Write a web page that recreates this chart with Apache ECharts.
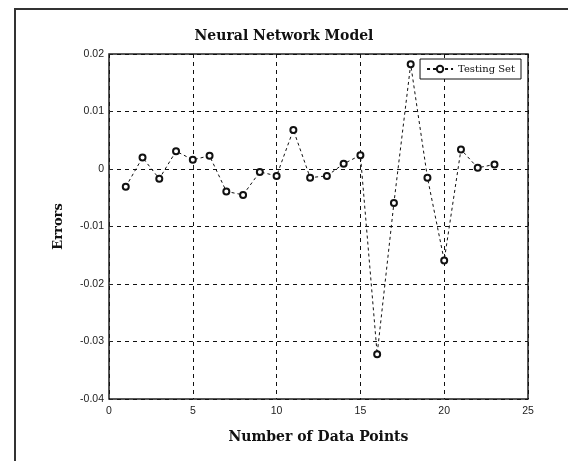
<!DOCTYPE html>
<html><head><meta charset="utf-8">
<script src="https://cdn.jsdelivr.net/npm/echarts@6/dist/echarts.min.js"></script>
<style>html,body{margin:0;padding:0;background:#fff}#c{width:568px;height:461px}</style>
</head><body><div id="c"></div>
<script>
const dataPointNumbers = [1,2,3,4,5,6,7,8,9,10,11,12,13,14,15,16,17,18,19,20,21,22,23];
const testingErrors = [-0.0031,0.0020,-0.0017,0.0031,0.0016,0.0023,-0.0039,-0.0045,-0.0005,-0.0012,0.0068,-0.0015,-0.0012,0.0009,0.0024,-0.0322,-0.0059,0.0182,-0.0015,-0.0159,0.0034,0.0002,0.0008];
const seriesName = 'Testing Set';
const titleText = 'Neural Network Model';
const xTitle = 'Number of Data Points';
const yTitle = 'Errors';

const chart = echarts.init(document.getElementById('c'), null, {renderer:'canvas'});
const serif = '"DejaVu Serif", "Liberation Serif", serif';
const sans = '"Liberation Sans", Arial, sans-serif';
chart.setOption({
  animation:false,
  backgroundColor:'#fff',
  graphic:[{type:'rect',shape:{x:15,y:9,width:700,height:600},style:{fill:'none',stroke:'#333',lineWidth:2},z:-1}],
  title:{text:titleText,left:'center',top:24,textStyle:{fontFamily:serif,fontWeight:'bold',fontSize:14,color:'#111'}},
  legend:{data:[seriesName],right:47,top:59,orient:'vertical',
    backgroundColor:'#fff',borderColor:'#111',borderWidth:1,borderRadius:0,padding:[5,6,5,6],
    itemWidth:26,itemHeight:8,itemGap:4,
    textStyle:{fontFamily:serif,fontSize:10,color:'#111'}},
  grid:{left:109,right:40,top:54,bottom:62,show:true,borderColor:'#222',borderWidth:1.5,backgroundColor:'transparent'},
  xAxis:{type:'value',min:0,max:25,interval:5,name:xTitle,nameLocation:'middle',nameGap:31,
    nameTextStyle:{fontFamily:serif,fontWeight:'bold',fontSize:14,color:'#111'},
    axisLine:{show:false},axisTick:{show:true,inside:true,length:4,lineStyle:{color:'#222'}},
    axisLabel:{fontFamily:sans,fontSize:10.5,color:'#222',margin:7},
    splitLine:{show:true,lineStyle:{color:'#111',type:[4,4],width:1}}},
  yAxis:{type:'value',min:-0.04,max:0.02,interval:0.01,name:yTitle,nameLocation:'middle',nameGap:44,
    nameTextStyle:{fontFamily:serif,fontWeight:'bold',fontSize:13,color:'#111'},
    axisLine:{show:false},axisTick:{show:true,inside:true,length:4,lineStyle:{color:'#222'}},
    axisLabel:{fontFamily:sans,fontSize:10.5,color:'#222',margin:5,formatter:v=>String(Math.round(v*100)/100)},
    splitLine:{show:true,lineStyle:{color:'#111',type:[4,4],width:1}}},
  series:[{name:seriesName,type:'line',data:dataPointNumbers.map((x,i)=>[x,testingErrors[i]]),
    symbol:'emptyCircle',symbolSize:6,
    lineStyle:{color:'#111',width:1,type:[3,3]},
    itemStyle:{color:'#111',borderColor:'#111',borderWidth:1}}]
});
</script></body></html>
